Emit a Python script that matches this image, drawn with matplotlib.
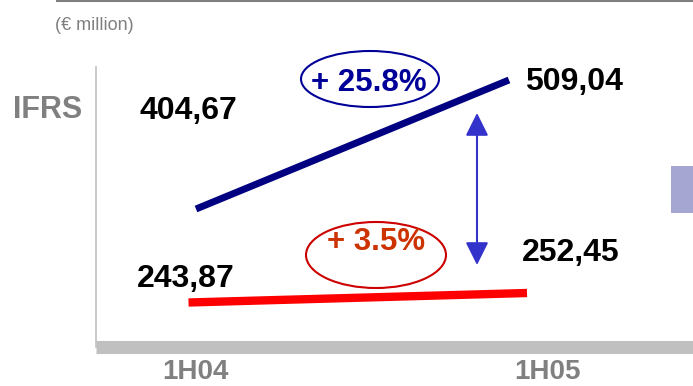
import matplotlib
matplotlib.use('Agg')
import matplotlib.pyplot as plt
from matplotlib.patches import Ellipse, FancyArrowPatch, Rectangle

plt.rcParams['font.family'] = ['Liberation Sans', 'DejaVu Sans']

###############################################################################
# Data (EUR million, IFRS)
###############################################################################
periods = ['1H04', '1H05']
upper = [404.67, 509.04]
lower = [243.87, 252.45]

GREY = '#808080'
W, H = 693, 386


def box(x0, y0, x1, y1):
    # pixel box measured from the top-left corner -> figure fraction rect
    return [x0 / W, 1 - y1 / H, (x1 - x0) / W, (y1 - y0) / H]


def fmt(v):
    return ('%.2f' % v).replace('.', ',')


def growth(s):
    return '+ %.1f%%' % ((s[1] / s[0] - 1) * 100)


fig = plt.figure(figsize=(W / 100, H / 100), dpi=100)
rect = box(96, 67, 693, 346.5)

# base axes: category ticks + the grey frame
ax = fig.add_axes(rect)
ax.set_xlim(-0.2809, 1.4128)
ax.set_xticks(range(len(periods)))
ax.set_xticklabels(periods, fontsize=20, fontweight='bold', color=GREY)
ax.set_yticks([])
ax.tick_params(axis='x', length=0, pad=9)
for s in ['top', 'right']:
    ax.spines[s].set_visible(False)
ax.spines['left'].set_color('#c0c0c0')
ax.spines['left'].set_linewidth(1.2)
ax.spines['bottom'].set_color('#c0c0c0')
ax.spines['bottom'].set_linewidth(9.4)
ax.spines['bottom'].set_capstyle('butt')


def series_axes(xlim, ylim):
    a = fig.add_axes(rect, frameon=False)
    a.set_xlim(*xlim)
    a.set_ylim(*ylim)
    a.axis('off')
    return a


# each line has its own (hidden) value scale
ab = series_axes((-0.3195, 1.588), (293.45, 519.55))
ab.plot([0, 1], upper, color='#000080', lw=5, solid_capstyle='butt')

ar = series_axes((-0.2733, 1.4904), (204.14, 456.5))
ar.plot([0, 1], lower, color='#ff0000', lw=6, solid_capstyle='butt')

lab = dict(textcoords='offset pixels', ha='center', va='center',
           fontsize=23, fontweight='bold', color='black')
ab.annotate(fmt(upper[0]), (0, upper[0]), xytext=(-7.5, 98), **lab)
ab.annotate(fmt(upper[1]), (1, upper[1]), xytext=(65, -2), **lab)
ar.annotate(fmt(lower[0]), (0, lower[0]), xytext=(-2.5, 23.5), **lab)
ar.annotate(fmt(lower[1]), (1, lower[1]), xytext=(44, 40), **lab)

###############################################################################
# Decorations in pixel space
###############################################################################
ov = fig.add_axes([0, 0, 1, 1], frameon=False)
ov.set_xlim(0, W)
ov.set_ylim(H, 0)
ov.axis('off')

ov.plot([57, W], [1, 1], color=GREY, lw=1.5, clip_on=False)
ov.text(55, 25, '(\u20ac million)', color=GREY, fontsize=13, va='center')
ov.text(48, 110, 'IFRS', ha='center', va='center', fontsize=22,
        fontweight='bold', color=GREY)

ov.add_patch(Ellipse((370, 79), 138, 56, fill=False, ec='#000099', lw=1.5))
ov.text(368.5, 83, growth(upper), ha='center', va='center', fontsize=22.5,
        fontweight='bold', color='#000099')

ov.add_patch(Ellipse((376, 255), 140, 66, fill=False, ec='#cc0000', lw=1.5))
ov.text(376.5, 242, growth(lower), ha='center', va='center', fontsize=22.5,
        fontweight='bold', color='#cc3300')

ov.add_patch(FancyArrowPatch((477, 265), (477, 113),
                             arrowstyle='<|-|>,head_length=14,head_width=7',
                             color='#3333cc', lw=1.5, shrinkA=0, shrinkB=0))

ov.add_patch(Rectangle((671, 166), 22, 47, fc='#a6a6d2', ec='none'))

fig.savefig('out.png', dpi=100)
